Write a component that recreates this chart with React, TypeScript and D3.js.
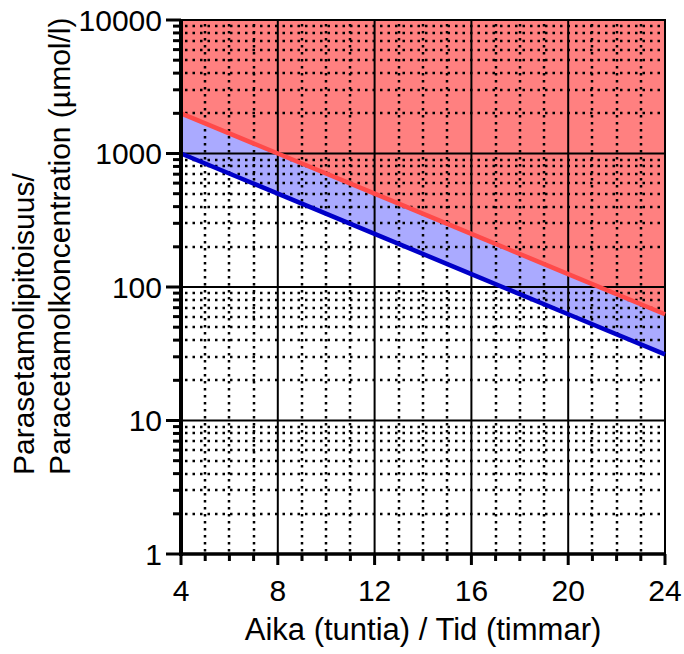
import React from "react";
import * as d3 from "d3";

const hours = [4, 8, 12, 16, 20, 24];
const upperLine = [2000, 1000, 500, 250, 125, 62.5];
const lowerLine = [1000, 500, 250, 125, 62.5, 31.25];
const xTicks = [4, 8, 12, 16, 20, 24];
const yTicks = [1, 10, 100, 1000, 10000];
const yTickLabels = ["1", "10", "100", "1000", "10000"];
const xTitle = "Aika (tuntia) / Tid (timmar)";
const yTitle1 = "Parasetamolipitoisuus/";
const yTitle2 = "Paracetamolkoncentration (µmol/l)";

const W = 684, H = 654;
const L = 181, R = 665, T = 20, B = 554;
const FONT = "'Liberation Sans', Arial, sans-serif";

export default function App() {
  const x = d3.scaleLinear().domain([4, 24]).range([L, R]);
  const y = d3.scaleLog().domain([1, 10000]).range([B, T]);

  const minorX: number[] = d3.range(4, 25).filter((h) => h % 4 !== 0);
  const minorY: number[] = [];
  for (let d = 1; d < 10000; d *= 10) for (let k = 2; k <= 9; k++) minorY.push(d * k);

  const pts = hours.map((h, i) => ({ h, up: upperLine[i], lo: lowerLine[i] }));
  const redArea = d3.area<any>().x((d) => x(d.h)).y0(() => y(10000)).y1((d) => y(d.up));
  const blueArea = d3.area<any>().x((d) => x(d.h)).y0((d) => y(d.lo)).y1((d) => y(d.up));
  const upLine = d3.line<any>().x((d) => x(d.h)).y((d) => y(d.up));
  const loLine = d3.line<any>().x((d) => x(d.h)).y((d) => y(d.lo));
  const rx = (v: number) => Math.round(v);

  return (
    <svg width={W} height={H} style={{ position: "absolute", left: 0, top: 0, background: "#fff" }}>
      <path d={redArea(pts) || ""} fill="#FF8080" />
      <path d={blueArea(pts) || ""} fill="#AAAAFF" />
      {minorX.map((h) => (
        <line key={"mx" + h} x1={rx(x(h))} x2={rx(x(h))} y1={T + 4} y2={B} stroke="#000" strokeWidth={2.5} strokeDasharray="2.5,4.5" />
      ))}
      {minorY.map((v) => (
        <line key={"my" + v} x1={L + 4} x2={R} y1={rx(y(v))} y2={rx(y(v))} stroke="#000" strokeWidth={2.5} strokeDasharray="2.5,5" />
      ))}
      {xTicks.map((h) => (
        <line key={"gx" + h} x1={x(h)} x2={x(h)} y1={T} y2={B} stroke="#000" strokeWidth={2} />
      ))}
      {yTicks.map((v) => (
        <line key={"gy" + v} x1={L} x2={R + 1} y1={y(v)} y2={y(v)} stroke="#000" strokeWidth={2} />
      ))}
      <path d={upLine(pts) || ""} fill="none" stroke="#FF4A4A" strokeWidth={4.5} />
      <path d={loLine(pts) || ""} fill="none" stroke="#0000C8" strokeWidth={4.5} />
      {/* axes */}
      <line x1={L} x2={L} y1={T - 1} y2={B + 2} stroke="#000" strokeWidth={4} />
      <line x1={L - 2} x2={R + 1} y1={B} y2={B} stroke="#000" strokeWidth={3.5} />
      {yTicks.map((v) => (
        <line key={"ty" + v} x1={L - 15} x2={L} y1={y(v)} y2={y(v)} stroke="#000" strokeWidth={3} />
      ))}
      {minorY.map((v) => (
        <line key={"tmy" + v} x1={L - 8} x2={L} y1={y(v)} y2={y(v)} stroke="#000" strokeWidth={3} />
      ))}
      {xTicks.map((h) => (
        <line key={"tx" + h} x1={x(h)} x2={x(h)} y1={B} y2={B + 11} stroke="#000" strokeWidth={3} />
      ))}
      {minorX.map((h) => (
        <line key={"tmx" + h} x1={x(h)} x2={x(h)} y1={B} y2={B + 7} stroke="#000" strokeWidth={3} />
      ))}
      {yTicks.map((v, i) => (
        <text key={"ly" + v} x={L - 19} y={y(v)} dy="0.36em" textAnchor="end" fontFamily={FONT} fontSize={30} fill="#000">
          {yTickLabels[i]}
        </text>
      ))}
      {xTicks.map((h) => (
        <text key={"lx" + h} x={x(h)} y={601} textAnchor="middle" fontFamily={FONT} fontSize={30} fill="#000">
          {h}
        </text>
      ))}
      <text x={(L + R) / 2} y={640} textAnchor="middle" fontFamily={FONT} fontSize={31} fill="#000">
        {xTitle}
      </text>
      <g transform="translate(34,475) rotate(-90)">
        <text x={0} y={0} textAnchor="start" fontFamily={FONT} fontSize={30} fill="#000">{yTitle1}</text>
        <text x={0} y={36} textAnchor="start" fontFamily={FONT} fontSize={30} fill="#000">{yTitle2}</text>
      </g>
    </svg>
  );
}
